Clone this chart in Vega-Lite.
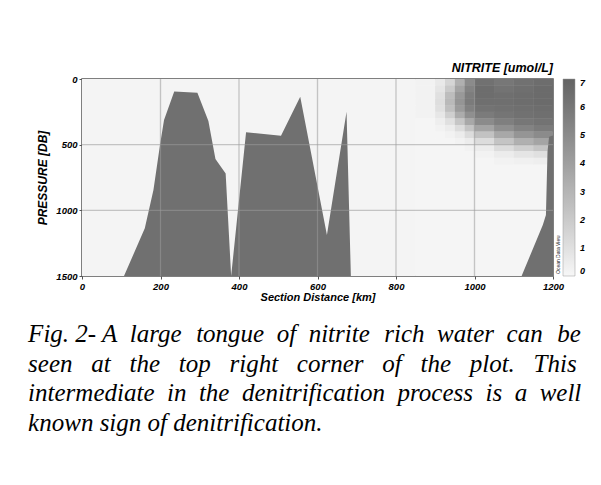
{
  "$schema": "https://vega.github.io/schema/vega-lite/v6.json",
  "padding": {"left": 28, "top": 60, "right": 0, "bottom": 0},
  "background": "white",
  "datasets": {
    "nitrite": [
      {"x0": 0, "x1": 850, "p0": 0, "p1": 1500, "v": 0.15},
      {"x0": 850, "x1": 1200, "p0": 650, "p1": 1500, "v": 0.1},
      {"x0": 850, "x1": 900, "p0": 0, "p1": 50, "v": 0.2},
      {"x0": 900, "x1": 925, "p0": 0, "p1": 50, "v": 0.6},
      {"x0": 925, "x1": 950, "p0": 0, "p1": 50, "v": 1.5},
      {"x0": 950, "x1": 975, "p0": 0, "p1": 50, "v": 3.2},
      {"x0": 975, "x1": 1000, "p0": 0, "p1": 50, "v": 5.0},
      {"x0": 1000, "x1": 1050, "p0": 0, "p1": 50, "v": 6.3},
      {"x0": 1050, "x1": 1100, "p0": 0, "p1": 50, "v": 6.0},
      {"x0": 1100, "x1": 1150, "p0": 0, "p1": 50, "v": 6.3},
      {"x0": 1150, "x1": 1200, "p0": 0, "p1": 50, "v": 6.5},
      {"x0": 850, "x1": 900, "p0": 50, "p1": 100, "v": 0.2},
      {"x0": 900, "x1": 925, "p0": 50, "p1": 100, "v": 0.8},
      {"x0": 925, "x1": 950, "p0": 50, "p1": 100, "v": 2.0},
      {"x0": 950, "x1": 975, "p0": 50, "p1": 100, "v": 3.8},
      {"x0": 975, "x1": 1000, "p0": 50, "p1": 100, "v": 5.4},
      {"x0": 1000, "x1": 1050, "p0": 50, "p1": 100, "v": 6.5},
      {"x0": 1050, "x1": 1100, "p0": 50, "p1": 100, "v": 6.2},
      {"x0": 1100, "x1": 1150, "p0": 50, "p1": 100, "v": 6.4},
      {"x0": 1150, "x1": 1200, "p0": 50, "p1": 100, "v": 6.6},
      {"x0": 850, "x1": 900, "p0": 100, "p1": 150, "v": 0.2},
      {"x0": 900, "x1": 925, "p0": 100, "p1": 150, "v": 1.0},
      {"x0": 925, "x1": 950, "p0": 100, "p1": 150, "v": 2.6},
      {"x0": 950, "x1": 975, "p0": 100, "p1": 150, "v": 4.3},
      {"x0": 975, "x1": 1000, "p0": 100, "p1": 150, "v": 5.7},
      {"x0": 1000, "x1": 1050, "p0": 100, "p1": 150, "v": 6.5},
      {"x0": 1050, "x1": 1100, "p0": 100, "p1": 150, "v": 6.4},
      {"x0": 1100, "x1": 1150, "p0": 100, "p1": 150, "v": 6.5},
      {"x0": 1150, "x1": 1200, "p0": 100, "p1": 150, "v": 6.6},
      {"x0": 850, "x1": 900, "p0": 150, "p1": 200, "v": 0.2},
      {"x0": 900, "x1": 925, "p0": 150, "p1": 200, "v": 1.1},
      {"x0": 925, "x1": 950, "p0": 150, "p1": 200, "v": 2.8},
      {"x0": 950, "x1": 975, "p0": 150, "p1": 200, "v": 4.5},
      {"x0": 975, "x1": 1000, "p0": 150, "p1": 200, "v": 5.8},
      {"x0": 1000, "x1": 1050, "p0": 150, "p1": 200, "v": 6.4},
      {"x0": 1050, "x1": 1100, "p0": 150, "p1": 200, "v": 6.4},
      {"x0": 1100, "x1": 1150, "p0": 150, "p1": 200, "v": 6.5},
      {"x0": 1150, "x1": 1200, "p0": 150, "p1": 200, "v": 6.6},
      {"x0": 850, "x1": 900, "p0": 200, "p1": 250, "v": 0.2},
      {"x0": 900, "x1": 925, "p0": 200, "p1": 250, "v": 1.0},
      {"x0": 925, "x1": 950, "p0": 200, "p1": 250, "v": 2.5},
      {"x0": 950, "x1": 975, "p0": 200, "p1": 250, "v": 4.2},
      {"x0": 975, "x1": 1000, "p0": 200, "p1": 250, "v": 5.5},
      {"x0": 1000, "x1": 1050, "p0": 200, "p1": 250, "v": 6.2},
      {"x0": 1050, "x1": 1100, "p0": 200, "p1": 250, "v": 6.3},
      {"x0": 1100, "x1": 1150, "p0": 200, "p1": 250, "v": 6.4},
      {"x0": 1150, "x1": 1200, "p0": 200, "p1": 250, "v": 6.5},
      {"x0": 850, "x1": 900, "p0": 250, "p1": 300, "v": 0.2},
      {"x0": 900, "x1": 925, "p0": 250, "p1": 300, "v": 0.7},
      {"x0": 925, "x1": 950, "p0": 250, "p1": 300, "v": 1.8},
      {"x0": 950, "x1": 975, "p0": 250, "p1": 300, "v": 3.4},
      {"x0": 975, "x1": 1000, "p0": 250, "p1": 300, "v": 4.8},
      {"x0": 1000, "x1": 1050, "p0": 250, "p1": 300, "v": 5.8},
      {"x0": 1050, "x1": 1100, "p0": 250, "p1": 300, "v": 6.1},
      {"x0": 1100, "x1": 1150, "p0": 250, "p1": 300, "v": 6.3},
      {"x0": 1150, "x1": 1200, "p0": 250, "p1": 300, "v": 6.4},
      {"x0": 850, "x1": 900, "p0": 300, "p1": 350, "v": 0.1},
      {"x0": 900, "x1": 925, "p0": 300, "p1": 350, "v": 0.4},
      {"x0": 925, "x1": 950, "p0": 300, "p1": 350, "v": 1.0},
      {"x0": 950, "x1": 975, "p0": 300, "p1": 350, "v": 2.2},
      {"x0": 975, "x1": 1000, "p0": 300, "p1": 350, "v": 3.6},
      {"x0": 1000, "x1": 1050, "p0": 300, "p1": 350, "v": 5.0},
      {"x0": 1050, "x1": 1100, "p0": 300, "p1": 350, "v": 5.6},
      {"x0": 1100, "x1": 1150, "p0": 300, "p1": 350, "v": 6.0},
      {"x0": 1150, "x1": 1200, "p0": 300, "p1": 350, "v": 6.2},
      {"x0": 850, "x1": 900, "p0": 350, "p1": 400, "v": 0.1},
      {"x0": 900, "x1": 925, "p0": 350, "p1": 400, "v": 0.2},
      {"x0": 925, "x1": 950, "p0": 350, "p1": 400, "v": 0.5},
      {"x0": 950, "x1": 975, "p0": 350, "p1": 400, "v": 1.2},
      {"x0": 975, "x1": 1000, "p0": 350, "p1": 400, "v": 2.3},
      {"x0": 1000, "x1": 1050, "p0": 350, "p1": 400, "v": 3.8},
      {"x0": 1050, "x1": 1100, "p0": 350, "p1": 400, "v": 4.8},
      {"x0": 1100, "x1": 1150, "p0": 350, "p1": 400, "v": 5.4},
      {"x0": 1150, "x1": 1200, "p0": 350, "p1": 400, "v": 5.8},
      {"x0": 850, "x1": 900, "p0": 400, "p1": 450, "v": 0.1},
      {"x0": 900, "x1": 925, "p0": 400, "p1": 450, "v": 0.1},
      {"x0": 925, "x1": 950, "p0": 400, "p1": 450, "v": 0.2},
      {"x0": 950, "x1": 975, "p0": 400, "p1": 450, "v": 0.5},
      {"x0": 975, "x1": 1000, "p0": 400, "p1": 450, "v": 1.2},
      {"x0": 1000, "x1": 1050, "p0": 400, "p1": 450, "v": 2.4},
      {"x0": 1050, "x1": 1100, "p0": 400, "p1": 450, "v": 3.6},
      {"x0": 1100, "x1": 1150, "p0": 400, "p1": 450, "v": 4.5},
      {"x0": 1150, "x1": 1200, "p0": 400, "p1": 450, "v": 5.0},
      {"x0": 850, "x1": 900, "p0": 450, "p1": 500, "v": 0.1},
      {"x0": 900, "x1": 925, "p0": 450, "p1": 500, "v": 0.1},
      {"x0": 925, "x1": 950, "p0": 450, "p1": 500, "v": 0.1},
      {"x0": 950, "x1": 975, "p0": 450, "p1": 500, "v": 0.2},
      {"x0": 975, "x1": 1000, "p0": 450, "p1": 500, "v": 0.5},
      {"x0": 1000, "x1": 1050, "p0": 450, "p1": 500, "v": 1.2},
      {"x0": 1050, "x1": 1100, "p0": 450, "p1": 500, "v": 2.3},
      {"x0": 1100, "x1": 1150, "p0": 450, "p1": 500, "v": 3.2},
      {"x0": 1150, "x1": 1200, "p0": 450, "p1": 500, "v": 3.8},
      {"x0": 850, "x1": 975, "p0": 500, "p1": 550, "v": 0.1},
      {"x0": 975, "x1": 1000, "p0": 500, "p1": 550, "v": 0.2},
      {"x0": 1000, "x1": 1050, "p0": 500, "p1": 550, "v": 0.5},
      {"x0": 1050, "x1": 1100, "p0": 500, "p1": 550, "v": 1.2},
      {"x0": 1100, "x1": 1150, "p0": 500, "p1": 550, "v": 1.8},
      {"x0": 1150, "x1": 1200, "p0": 500, "p1": 550, "v": 2.3},
      {"x0": 850, "x1": 1000, "p0": 550, "p1": 600, "v": 0.1},
      {"x0": 1000, "x1": 1050, "p0": 550, "p1": 600, "v": 0.2},
      {"x0": 1050, "x1": 1100, "p0": 550, "p1": 600, "v": 0.5},
      {"x0": 1100, "x1": 1150, "p0": 550, "p1": 600, "v": 0.8},
      {"x0": 1150, "x1": 1200, "p0": 550, "p1": 600, "v": 1.0},
      {"x0": 850, "x1": 1050, "p0": 600, "p1": 650, "v": 0.1},
      {"x0": 1050, "x1": 1100, "p0": 600, "p1": 650, "v": 0.2},
      {"x0": 1100, "x1": 1150, "p0": 600, "p1": 650, "v": 0.3},
      {"x0": 1150, "x1": 1200, "p0": 600, "p1": 650, "v": 0.4}
    ]
  },
  "title": {
    "text": [
      "Fig. 2- A\u2005 large\u2005\u200a tongue\u2005 of\u2005 nitrite\u2005\u200a rich\u2005 water\u2005 can\u2005\u200a be",
      "seen\u2002 at\u2002 the\u2002 top\u2002 right\u2002 corner\u2002 of\u2002 the\u2002 plot.\u2002 This",
      "intermediate\u2005 in\u2005 the\u2005 denitrification\u2005 process\u2005 is\u2005 a\u2005 well",
      "known sign of denitrification."
    ],
    "orient": "bottom",
    "anchor": "start",
    "font": "Liberation Serif",
    "fontStyle": "italic",
    "fontWeight": "normal",
    "fontSize": 25,
    "lineHeight": 29.5,
    "offset": 19,
    "dx": -8,
    "color": "black"
  },
  "vconcat": [
    {
      "width": 471,
      "height": 197,
      "title": {
        "text": "NITRITE [umol/L]",
        "anchor": "end",
        "frame": "group",
        "font": "Liberation Sans",
        "fontSize": 12.5,
        "fontWeight": "bold",
        "fontStyle": "italic",
        "color": "black",
        "offset": 0
      },
      "encoding": {
        "x": {
          "field": "x0", "type": "quantitative",
          "scale": {"domain": [0, 1200], "nice": false},
          "axis": {
            "title": "Section Distance [km]",
            "values": [0, 200, 400, 600, 800, 1000, 1200],
            "format": "d",
            "grid": false,
            "labelFlush": false,
            "titlePadding": 1
          }
        },
        "y": {
          "field": "p0", "type": "quantitative",
          "scale": {"domain": [0, 1500], "nice": false, "reverse": true},
          "axis": {
            "title": "PRESSURE [DB]",
            "values": [0, 500, 1000, 1500],
            "format": "d",
            "grid": false,
            "labelFlush": false,
            "titleFontSize": 12,
            "titlePadding": 6
          }
        }
      },
      "layer": [
        {
          "data": {"name": "nitrite"},
          "mark": {"type": "rect"},
          "encoding": {
            "x2": {"field": "x1"},
            "y2": {"field": "p1"},
            "color": {
              "field": "v", "type": "quantitative",
              "scale": {"domain": [0, 7], "range": ["#f7f7f7", "#636363"]},
              "legend": {
                "type": "gradient",
                "title": null,
                "orient": "none",
                "legendX": 481,
                "legendY": 0,
                "direction": "vertical",
                "values": [0, 1, 2, 3, 4, 5, 6, 7],
                "gradientLength": 197,
                "gradientThickness": 12,
                "gradientStrokeColor": "#999999",
                "gradientStrokeWidth": 0.5,
                "labelOffset": 5,
                "labelFont": "Liberation Sans",
                "labelFontSize": 9,
                "labelFontWeight": "bold",
                "labelFontStyle": "italic",
                "labelColor": "black"
              }
            }
          }
        },
        {
          "data": {"name": "nitrite"},
          "mark": {"type": "rect"},
          "encoding": {
            "x2": {"field": "x1"},
            "y2": {"field": "p1"},
            "color": {"field": "v", "type": "quantitative"}
          }
        },
        {
          "data": {
            "values": [
              {"km": 107, "p": 1500, "seg": "a"},
              {"km": 160, "p": 1137, "seg": "a"},
              {"km": 182, "p": 845, "seg": "a"},
              {"km": 199, "p": 497, "seg": "a"},
              {"km": 209, "p": 312, "seg": "a"},
              {"km": 235, "p": 96, "seg": "a"},
              {"km": 294, "p": 104, "seg": "a"},
              {"km": 322, "p": 320, "seg": "a"},
              {"km": 340, "p": 610, "seg": "a"},
              {"km": 366, "p": 720, "seg": "a"},
              {"km": 380, "p": 1500, "seg": "a"},
              {"km": 418, "p": 406, "seg": "a"},
              {"km": 507, "p": 432, "seg": "a"},
              {"km": 556, "p": 135, "seg": "a"},
              {"km": 624, "p": 1188, "seg": "a"},
              {"km": 674, "p": 249, "seg": "a"},
              {"km": 685, "p": 1500, "seg": "a"},
              {"km": 1120, "p": 1500, "seg": "b"},
              {"km": 1174, "p": 1112, "seg": "b"},
              {"km": 1182, "p": 1036, "seg": "b"},
              {"km": 1186, "p": 553, "seg": "b"},
              {"km": 1190, "p": 439, "seg": "b"},
              {"km": 1200, "p": 430, "seg": "b"}
            ]
          },
          "mark": {"type": "area", "color": "#707070", "opacity": 1},
          "encoding": {
            "x": {"field": "km", "type": "quantitative"},
            "y": {"field": "p", "type": "quantitative"},
            "y2": {"datum": 1500},
            "detail": {"field": "seg"}
          }
        },
        {
          "data": {"values": [{"km": 200}, {"km": 400}, {"km": 600}, {"km": 800}, {"km": 1000}]},
          "mark": {"type": "rule", "color": "#9a9a9a", "opacity": 0.55, "strokeWidth": 1.3},
          "encoding": {"x": {"field": "km", "type": "quantitative"}, "y": null}
        },
        {
          "data": {"values": [{"p": 500}, {"p": 1000}]},
          "mark": {"type": "rule", "color": "#9a9a9a", "opacity": 0.55, "strokeWidth": 1.3},
          "encoding": {"x": null, "y": {"field": "p", "type": "quantitative"}}
        },
        {
          "data": {"values": [{"km": 1200, "p": 1500, "label": "Ocean Data View"}]},
          "mark": {
            "type": "text", "angle": 270, "align": "left", "baseline": "top",
            "dx": 2, "dy": 3, "fontSize": 5, "font": "Liberation Sans", "color": "#222222"
          },
          "encoding": {
            "x": {"field": "km", "type": "quantitative"},
            "y": {"field": "p", "type": "quantitative"},
            "text": {"field": "label"}
          }
        }
      ]
    }
  ],
  "config": {
    "view": {"stroke": "#555555", "strokeWidth": 1.5},
    "axis": {
      "zindex": 1,
      "domain": false,
      "tickSize": 3,
      "tickColor": "#555555",
      "labelPadding": 2,
      "labelFont": "Liberation Sans",
      "labelFontSize": 9.5,
      "labelFontWeight": "bold",
      "labelFontStyle": "italic",
      "labelColor": "black",
      "titleFont": "Liberation Sans",
      "titleFontSize": 11,
      "titleFontWeight": "bold",
      "titleFontStyle": "italic",
      "titleColor": "black"
    }
  }
}
